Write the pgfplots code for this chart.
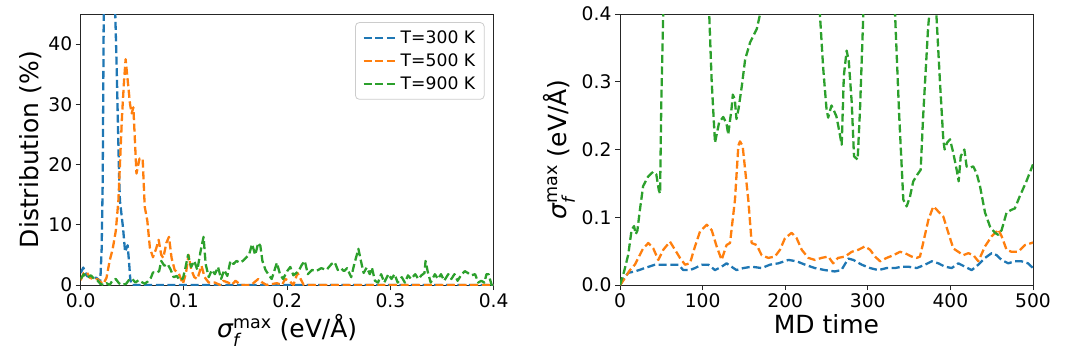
\documentclass[border=0pt]{standalone}
\usepackage{fontspec}
\setmainfont{DejaVu Sans}
\usepackage{amsmath}
\usepackage{pgfplots}
\pgfplotsset{compat=1.18}
\definecolor{cB}{HTML}{1F77B4}
\definecolor{cO}{HTML}{FF7F0E}
\definecolor{cG}{HTML}{2CA02C}
\pgfplotsset{common/.style={
  scale only axis, width=413pt, height=271pt, anchor=south west,
  axis line style={black!85, line width=1pt},
  tick align=outside, xtick pos=left, ytick pos=left,
  major tick length=5pt, every tick/.style={black!85, line width=1pt},
  tick label style={font=\fontsize{18.7}{20}\selectfont},
  label style={font=\fontsize{25}{28}\selectfont},
  /pgf/number format/assume math mode=true,
  every axis plot/.append style={line width=2.3pt, dash pattern=on 8pt off 3.6pt, line join=round, line cap=butt, mark=none},
}}
\newcommand{\sig}{{\itshape σ}$_{\textit{f}}^{\text{max}}$}
\begin{document}
\begin{tikzpicture}
\useasboundingbox (0,0) rectangle (1076pt,360pt);
\begin{axis}[common, at={(80.7pt,75pt)},
  xmin=0, xmax=0.4, ymin=0, ymax=45,
  xtick={0,0.1,0.2,0.3,0.4}, ytick={0,10,20,30,40},
  scaled x ticks=false,
  xticklabel style={/pgf/number format/.cd, fixed, fixed zerofill, precision=1},
  xlabel={\sig\ (eV/Å)}, ylabel={Distribution (\%)},
  legend cell align=left,
  legend image code/.code={\draw[#1] (0pt,0pt) -- (34pt,0pt);},
  legend style={at={(0.978,0.97)}, anchor=north east, draw=black!20, rounded corners=4pt, line width=0.8pt,
    font=\fontsize{17.2}{20}\selectfont, inner xsep=7pt, inner ysep=6pt, row sep=5pt,
    /tikz/every even column/.append style={column sep=10pt}},
]
\addplot[cB] coordinates {
(0.000,2.0) (0.0025,2.9) (0.006,1.5) (0.010,1.2) (0.015,1.2) (0.019,0.7) (0.0203,6) (0.0213,17) (0.0225,50) (0.025,80) (0.028,90) (0.031,75) (0.0335,45) (0.035,35) (0.0372,18) (0.038,14) (0.041,9.5) (0.043,5.5) (0.0445,6.2) (0.0455,6.6) (0.047,3.4) (0.048,1) (0.0493,0) (0.1,0) (0.2,0) (0.3,0) (0.4,0)
};
\addlegendentry{T=300 K}
\addplot[cO] coordinates {
(0.000,0.8) (0.003,2.0) (0.006,2.1) (0.009,1.2) (0.012,1.0) (0.016,1.0) (0.019,0.5) (0.022,0.2) (0.025,1.2) (0.028,4.0) (0.031,6.0) (0.034,9.0) (0.0365,14) (0.038,20) (0.040,28) (0.042,34) (0.0435,37.5) (0.0455,34) (0.0478,30) (0.0494,28.5) (0.051,29.5) (0.054,18.5) (0.057,21) (0.060,21) (0.062,13) (0.0645,10.7) (0.067,6.2) (0.070,4.6) (0.073,6.0) (0.0755,7.5) (0.078,5.0) (0.080,4.5) (0.083,7.0) (0.0855,8.0) (0.088,4.5) (0.091,2.5) (0.095,1.9) (0.099,0.2) (0.102,2.0) (0.1045,5.0) (0.107,2.6) (0.110,1.3) (0.113,1.0) (0.117,3.2) (0.120,1.3) (0.124,0.4) (0.130,0.4) (0.135,0.0) (0.138,0.7) (0.143,0.4) (0.146,0.0) (0.150,0.7) (0.155,0.0) (0.165,0.0) (0.172,1.0) (0.176,0.4) (0.180,0.0) (0.190,0.3) (0.195,0.0) (0.198,1.0) (0.202,0.7) (0.206,0.0) (0.210,2.0) (0.213,1.0) (0.216,0.0) (0.3,0) (0.4,0)
};
\addlegendentry{T=500 K}
\addplot[cG] coordinates {
(0.000,1.0) (0.003,1.8) (0.006,1.2) (0.010,1.6) (0.013,1.0) (0.016,0.8) (0.019,0.2) (0.022,0.0) (0.025,0.3) (0.028,0.0) (0.031,0.8) (0.034,1.0) (0.037,0.3) (0.040,0.0) (0.044,0.2) (0.047,0.9) (0.050,1.0) (0.053,0.4) (0.056,0.8) (0.059,0.5) (0.062,0.2) (0.065,0.6) (0.068,1.2) (0.070,2.1) (0.073,2.0) (0.076,2.3) (0.078,4.0) (0.081,3.2) (0.084,3.5) (0.087,2.6) (0.090,1.3) (0.093,1.5) (0.096,0.8) (0.099,1.1) (0.101,2.5) (0.104,5.0) (0.107,3.0) (0.110,4.0) (0.113,2.5) (0.116,5.5) (0.119,8.0) (0.121,3.5) (0.124,1.3) (0.127,2.5) (0.130,1.8) (0.133,3.0) (0.136,1.0) (0.139,2.5) (0.142,1.5) (0.145,4.0) (0.148,3.5) (0.151,4.0) (0.154,3.7) (0.157,4.0) (0.160,4.5) (0.163,5.0) (0.166,6.8) (0.169,5.0) (0.172,7.0) (0.174,6.5) (0.176,4.0) (0.179,2.5) (0.182,1.7) (0.185,1.0) (0.190,3.7) (0.193,1.8) (0.196,1.0) (0.200,2.3) (0.203,3.0) (0.206,1.6) (0.211,2.3) (0.214,3.3) (0.217,4.0) (0.220,1.8) (0.224,2.5) (0.228,2.3) (0.233,2.8) (0.238,2.5) (0.243,3.5) (0.246,3.8) (0.249,2.5) (0.252,2.8) (0.255,2.3) (0.258,2.8) (0.262,1.3) (0.265,3.5) (0.269,6.0) (0.271,4.3) (0.274,2.0) (0.277,2.9) (0.280,1.8) (0.282,2.9) (0.285,0.7) (0.288,0.4) (0.291,1.8) (0.294,0.4) (0.298,1.8) (0.301,1.0) (0.304,1.8) (0.307,0.4) (0.311,1.3) (0.314,0.4) (0.317,1.6) (0.320,1.0) (0.324,1.8) (0.327,1.0) (0.330,1.6) (0.333,2.0) (0.334,4.0) (0.336,2.3) (0.339,0.4) (0.343,1.8) (0.346,1.0) (0.349,1.8) (0.352,0.7) (0.356,1.8) (0.359,1.0) (0.362,1.8) (0.365,0.7) (0.369,1.8) (0.372,2.3) (0.375,2.0) (0.378,1.6) (0.382,1.8) (0.385,0.4) (0.388,0.7) (0.391,0.4) (0.393,1.8) (0.395,1.8) (0.398,0.0) (0.400,0.5)
};
\addlegendentry{T=900 K}
\end{axis}
\begin{axis}[common, at={(620pt,75pt)},
  xmin=0, xmax=500, ymin=0, ymax=0.4,
  xtick={0,100,200,300,400,500}, ytick={0,0.1,0.2,0.3,0.4},
  scaled y ticks=false,
  yticklabel style={/pgf/number format/.cd, fixed, fixed zerofill, precision=1},
  xlabel={MD time}, ylabel={\sig\ (eV/Å)},
]
\addplot[cB] coordinates {
(0,0) (5,0.01) (10,0.018) (18.2,0.02) (30,0.025) (42.4,0.03) (50.4,0.03) (62.5,0.03) (70.6,0.03) (76.7,0.022) (84.7,0.022) (90.8,0.025) (98.9,0.03) (107,0.03) (115,0.022) (123,0.027) (129,0.032) (135,0.027) (141,0.022) (149.4,0.025) (159.4,0.027) (171.5,0.025) (181.6,0.03) (191.7,0.032) (203.8,0.037) (213.9,0.035) (224,0.03) (236,0.025) (248.2,0.022) (260,0.02) (268,0.022) (276.4,0.039) (282.5,0.037) (292.6,0.03) (302.7,0.025) (312.8,0.022) (322.9,0.025) (333,0.025) (341,0.027) (349,0.027) (359.2,0.025) (369.3,0.03) (377.4,0.035) (385.4,0.032) (393.5,0.027) (401.6,0.025) (409.6,0.032) (417.7,0.027) (425.8,0.022) (433.8,0.03) (441.9,0.04) (450,0.047) (456,0.044) (462,0.037) (470,0.032) (478,0.035) (486,0.035) (494,0.032) (500,0.025)
};
\addplot[cO] coordinates {
(0,0) (2,0.003) (12,0.022) (18,0.03) (28,0.054) (34.3,0.062) (40.3,0.054) (46.4,0.037) (52.4,0.052) (60.5,0.064) (66.6,0.052) (72.6,0.04) (78.7,0.03) (84.7,0.032) (90.8,0.057) (96.9,0.079) (105,0.089) (111,0.081) (117,0.057) (123,0.037) (129,0.059) (133.2,0.062) (139.2,0.126) (143.3,0.206) (145.3,0.212) (148.5,0.205) (155.3,0.126) (159.4,0.062) (165.4,0.059) (171.5,0.044) (179.5,0.04) (187.6,0.042) (193.7,0.052) (199.7,0.069) (207.8,0.077) (213.9,0.069) (220,0.052) (228,0.04) (236,0.037) (244,0.04) (252.2,0.042) (258,0.032) (264,0.04) (272.5,0.042) (280.5,0.049) (288.6,0.052) (296.6,0.057) (302.7,0.052) (308.8,0.042) (314.8,0.035) (322.9,0.04) (331,0.044) (339,0.049) (345,0.047) (353,0.042) (359.2,0.04) (363.2,0.042) (367,0.062) (373.3,0.096) (379.3,0.116) (383.4,0.111) (391.4,0.101) (397.5,0.077) (403.5,0.054) (409.6,0.049) (415.6,0.044) (421.7,0.047) (427.8,0.044) (433.8,0.035) (441.9,0.057) (450,0.072) (456,0.079) (458,0.082) (462,0.072) (468,0.052) (474,0.049) (482,0.049) (490.3,0.059) (498.4,0.062) (500,0.063)
};
\addplot[cG] coordinates {
(0,0) (5,0.02) (10,0.045) (14,0.081) (17,0.087) (19,0.075) (21,0.08) (24,0.11) (28,0.146) (34,0.16) (40,0.167) (44,0.163) (47,0.14) (48.5,0.135) (50,0.27) (52.5,0.41) (55,0.55) (60,0.7) (80,0.9) (100,0.7) (105,0.45) (108,0.4) (111,0.3) (115,0.21) (120,0.24) (125,0.248) (129,0.238) (131,0.222) (135,0.26) (136.6,0.281) (139,0.274) (141,0.245) (143.5,0.26) (147.5,0.294) (151.5,0.333) (157.5,0.358) (165.6,0.378) (169.6,0.4) (175,0.45) (190,0.6) (220,0.7) (238,0.5) (242,0.4) (246,0.32) (250,0.26) (252,0.247) (256,0.265) (258,0.26) (262,0.249) (265,0.23) (268.4,0.207) (271,0.309) (274.4,0.346) (277,0.33) (280.5,0.27) (283.3,0.19) (287.7,0.185) (290.6,0.26) (294.6,0.4) (298,0.55) (315,0.7) (330,0.5) (333,0.4) (338,0.25) (343,0.126) (347,0.116) (351,0.13) (355,0.153) (360,0.163) (364,0.17) (367,0.249) (373,0.38) (376,0.42) (380,0.45) (383,0.4) (387.4,0.299) (391.4,0.215) (393,0.2) (396,0.21) (399.5,0.215) (403.5,0.195) (407.6,0.17) (410,0.153) (412.5,0.19) (416.9,0.2) (419.6,0.175) (423,0.173) (427.7,0.175) (431.7,0.165) (435.8,0.146) (441.9,0.107) (448,0.086) (454,0.077) (458,0.074) (462,0.081) (468,0.107) (474,0.111) (478,0.113) (484,0.131) (492,0.153) (500,0.178)
};
\end{axis}
\end{tikzpicture}
\end{document}
